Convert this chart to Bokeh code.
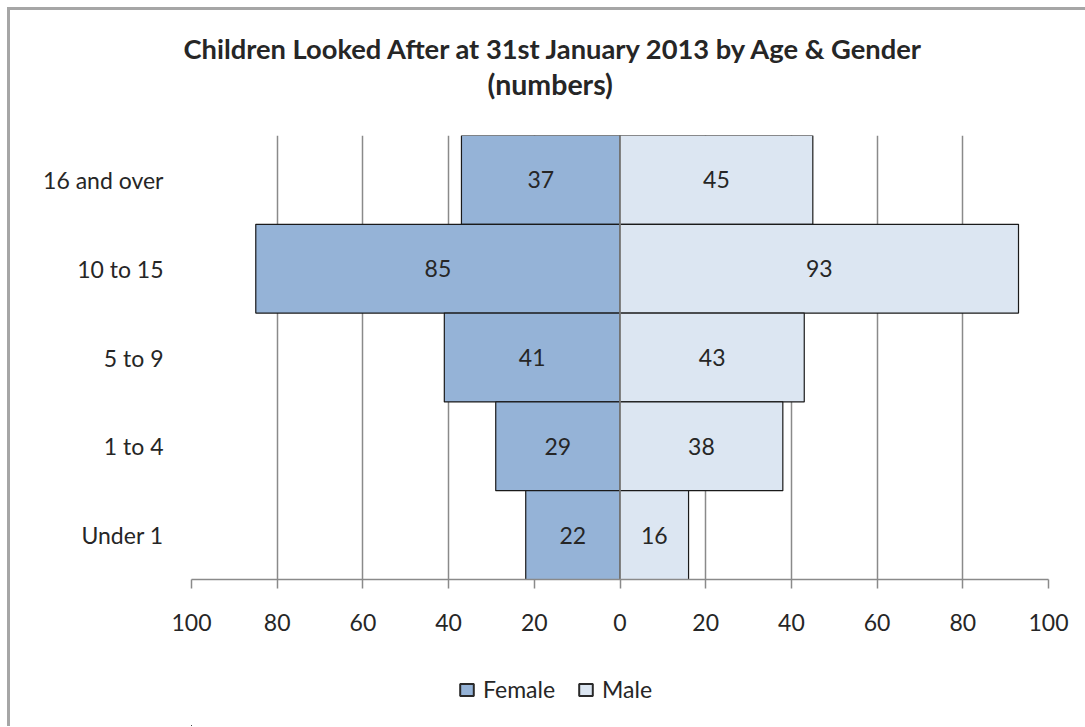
from bokeh.plotting import figure
from bokeh.layouts import column
from bokeh.models import (Range1d, FactorRange, FixedTicker, Span, Legend, LegendItem,
                          Title, ColumnDataSource)
from bokeh.core.properties import value
from bokeh.embed import file_html
from bokeh.resources import INLINE

# ---- data ----
age_groups = ["16 and over", "10 to 15", "5 to 9", "1 to 4", "Under 1"]
female = [37, 85, 41, 29, 22]
male = [45, 93, 43, 38, 16]
series_names = ["Female", "Male"]
x_ticks = [-100, -80, -60, -40, -20, 0, 20, 40, 60, 80, 100]
x_tick_labels = ["100", "80", "60", "40", "20", "0", "20", "40", "60", "80", "100"]
title_line1 = "Children Looked After at 31st January 2013  by Age & Gender"
title_line2 = "(numbers)"

FONT = "Lato"
TXT = "#262626"
GRID = "#8a8a8a"
FS = "23px"
F_COL = "#95B3D7"
M_COL = "#DCE6F2"

src = ColumnDataSource(dict(
    cat=age_groups,
    f_left=[-v for v in female],
    zero=[0] * len(age_groups),
    m_right=male,
    f_mid=[-v / 2 for v in female],
    m_mid=[v / 2 for v in male],
    f_txt=[str(v) for v in female],
    m_txt=[str(v) for v in male],
))

# ---- title strip ----
tf = figure(width=1075, frame_height=1, output_backend="svg", toolbar_location=None,
            x_range=Range1d(0, 1), y_range=Range1d(0, 1),
            x_axis_location=None, y_axis_location=None,
            min_border_top=90, min_border_bottom=0, min_border_left=0, min_border_right=0)
tf.outline_line_color = None
tf.grid.grid_line_color = None
tf.add_layout(Title(text=title_line2, align="left", offset=296, standoff=0,
                    text_font=FONT, text_font_style="bold", text_font_size="28.5px",
                    text_color=TXT), "above")
tf.add_layout(Title(text=title_line1, align="left", offset=-8, standoff=0,
                    text_font=FONT, text_font_style="bold", text_font_size="27.3px",
                    text_color=TXT), "above")

# ---- main chart ----
p = figure(frame_width=857, frame_height=444, output_backend="svg", toolbar_location=None,
           x_range=Range1d(-100, 100), y_range=FactorRange(factors=list(reversed(age_groups))),
           min_border_left=181, min_border_right=37, min_border_top=34, min_border_bottom=70)
p.outline_line_color = None
p.background_fill_color = "white"
p.border_fill_color = "white"

p.ygrid.grid_line_color = None
p.xgrid.grid_line_color = GRID
p.xgrid.grid_line_width = 1.5
p.xgrid.ticker = FixedTicker(ticks=x_ticks)

fb = p.hbar(y="cat", left="f_left", right="zero", height=1.0, source=src,
            fill_color=F_COL, line_color="#1a1a1a", line_width=1.2)
mb = p.hbar(y="cat", left="zero", right="m_right", height=1.0, source=src,
            fill_color=M_COL, line_color="#1a1a1a", line_width=1.2)

p.add_layout(Span(location=0, dimension="height", line_color=GRID, line_width=1.5))

p.text(x="f_mid", y="cat", text="f_txt", source=src, text_align="center",
       text_baseline="middle", text_font=value(FONT), text_font_size=FS, text_color=TXT)
p.text(x="m_mid", y="cat", text="m_txt", source=src, text_align="center",
       text_baseline="middle", text_font=value(FONT), text_font_size=FS, text_color=TXT)

xa = p.xaxis[0]
xa.ticker = FixedTicker(ticks=x_ticks)
xa.major_label_overrides = {t: l for t, l in zip(x_ticks, x_tick_labels)}
xa.axis_line_color = GRID
xa.axis_line_width = 1.5
xa.major_tick_line_color = GRID
xa.major_tick_line_width = 1.5
xa.major_tick_in = 0
xa.major_tick_out = 9
xa.minor_tick_line_color = None
xa.major_label_standoff = 25
xa.major_label_text_font = FONT
xa.major_label_text_font_size = FS
xa.major_label_text_color = TXT

ya = p.yaxis[0]
ya.axis_line_color = None
ya.major_tick_line_color = None
ya.minor_tick_line_color = None
ya.major_label_standoff = 22
ya.major_label_text_font = FONT
ya.major_label_text_font_size = FS
ya.major_label_text_color = TXT

# ---- legend strip ----
lf = figure(width=1075, height=77, output_backend="svg", toolbar_location=None,
            x_range=Range1d(1000, 1001), y_range=Range1d(1000, 1001),
            x_axis_location=None, y_axis_location=None, min_border=0)
lf.outline_line_color = None
lf.grid.grid_line_color = None
# swatch renderers (same data, lying outside this strip's visible ranges)
lf_f = lf.hbar(y="zero", left="f_left", right="zero", height=0.5, source=src,
               fill_color=F_COL, line_color="#2a2a2a", line_width=2)
lf_m = lf.hbar(y="zero", left="zero", right="m_right", height=0.5, source=src,
               fill_color=M_COL, line_color="#2a2a2a", line_width=2)
legend = Legend(items=[LegendItem(label=series_names[0], renderers=[lf_f]),
                       LegendItem(label=series_names[1], renderers=[lf_m])],
                orientation="horizontal", location=(267, 23),
                glyph_width=17, glyph_height=15, label_standoff=8, spacing=22,
                padding=0, margin=0, border_line_color=None, background_fill_alpha=0,
                label_text_font=FONT, label_text_font_size=FS, label_text_color=TXT)
lf.add_layout(legend, "center")

page = column(tf, p, lf, spacing=0)
page.margin = (7, 0, 0, 7)
page.styles = {"border-left": "3px solid #a6a6a6", "border-top": "3px solid #a6a6a6"}

open("out.html", "w").write(file_html(page, INLINE))
